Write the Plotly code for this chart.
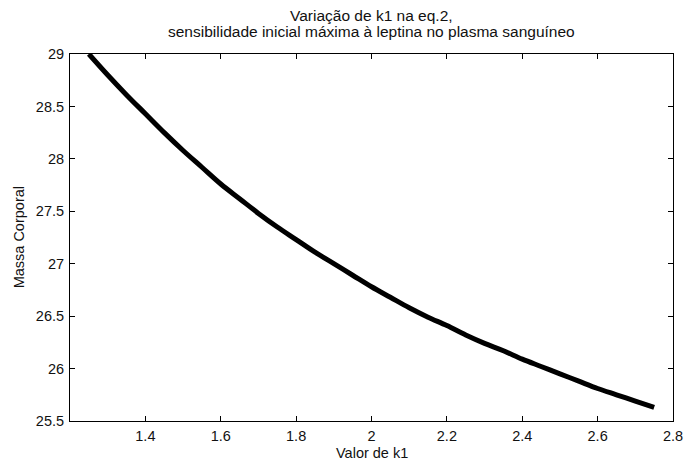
import plotly.graph_objects as go

k1 = [1.25, 1.30, 1.35, 1.40, 1.45, 1.50, 1.55, 1.60, 1.65, 1.70, 1.75, 1.80,
      1.85, 1.90, 1.95, 2.00, 2.05, 2.10, 2.15, 2.20, 2.25, 2.30, 2.35, 2.40,
      2.45, 2.50, 2.55, 2.60, 2.65, 2.70, 2.75]
massa = [29.00, 28.80, 28.61, 28.43, 28.25, 28.08, 27.92, 27.76, 27.62, 27.48,
         27.35, 27.23, 27.11, 27.00, 26.89, 26.78, 26.68, 26.58, 26.49, 26.41,
         26.32, 26.24, 26.17, 26.09, 26.02, 25.95, 25.88, 25.81, 25.75, 25.69,
         25.63]
x_ticks = [1.4, 1.6, 1.8, 2, 2.2, 2.4, 2.6, 2.8]
x_ticklabels = ["1.4", "1.6", "1.8", "2", "2.2", "2.4", "2.6", "2.8"]
y_ticks = [25.5, 26, 26.5, 27, 27.5, 28, 28.5, 29]
y_ticklabels = ["25.5", "26", "26.5", "27", "27.5", "28", "28.5", "29"]
title_lines = ["Variação de k1 na eq.2,",
               "sensibilidade inicial máxima à leptina no plasma sanguíneo"]
x_title = "Valor de k1"
y_title = "Massa Corporal"

font = "Liberation Sans, Arial, sans-serif"
W, H = 692, 463
L, R, T, B = 70, 683, 54, 421


def px(x):
    return (x - L) / (R - L)


def py(y):
    return (B - y) / (B - T)


fig = go.Figure()
fig.add_trace(go.Scatter(x=k1, y=massa, mode="lines",
                         line=dict(color="black", width=5, shape="spline"),
                         showlegend=False, hoverinfo="skip"))

axis_common = dict(showline=True, linecolor="black", linewidth=1, mirror="allticks",
                   ticks="inside", ticklen=5, tickcolor="black", tickwidth=1,
                   showgrid=False, zeroline=False, ticklabeloverflow="allow",
                   tickfont=dict(family=font, size=14.5, color="#111"))

fig.update_xaxes(range=[1.2, 2.8], tickvals=x_ticks, ticktext=x_ticklabels,
                 ticklabelstandoff=2, **axis_common)
fig.update_yaxes(range=[25.5, 29], tickvals=y_ticks, ticktext=y_ticklabels,
                 ticklabelstandoff=2, **axis_common)

cx = px((L + R) / 2)
tfont = dict(family=font, size=15.5, color="#111")
lfont = dict(family=font, size=14.5, color="#111")
annotations = [
    dict(text=title_lines[0], x=cx, y=py(15), xref="paper", yref="paper",
         xanchor="center", yanchor="middle", showarrow=False, font=tfont),
    dict(text=title_lines[1], x=cx, y=py(31), xref="paper", yref="paper",
         xanchor="center", yanchor="middle", showarrow=False, font=tfont),
    dict(text=x_title, x=cx, y=py(453), xref="paper", yref="paper",
         xanchor="center", yanchor="middle", showarrow=False, font=lfont),
    dict(text=y_title, x=px(18), y=py((T + B) / 2), xref="paper", yref="paper",
         xanchor="center", yanchor="middle", showarrow=False, textangle=-90,
         font=lfont),
]

fig.update_layout(
    width=W, height=H,
    margin=dict(l=L, r=W - R, t=T, b=H - B, pad=0),
    paper_bgcolor="white", plot_bgcolor="white",
    annotations=annotations,
)

fig.write_html("out.html")
